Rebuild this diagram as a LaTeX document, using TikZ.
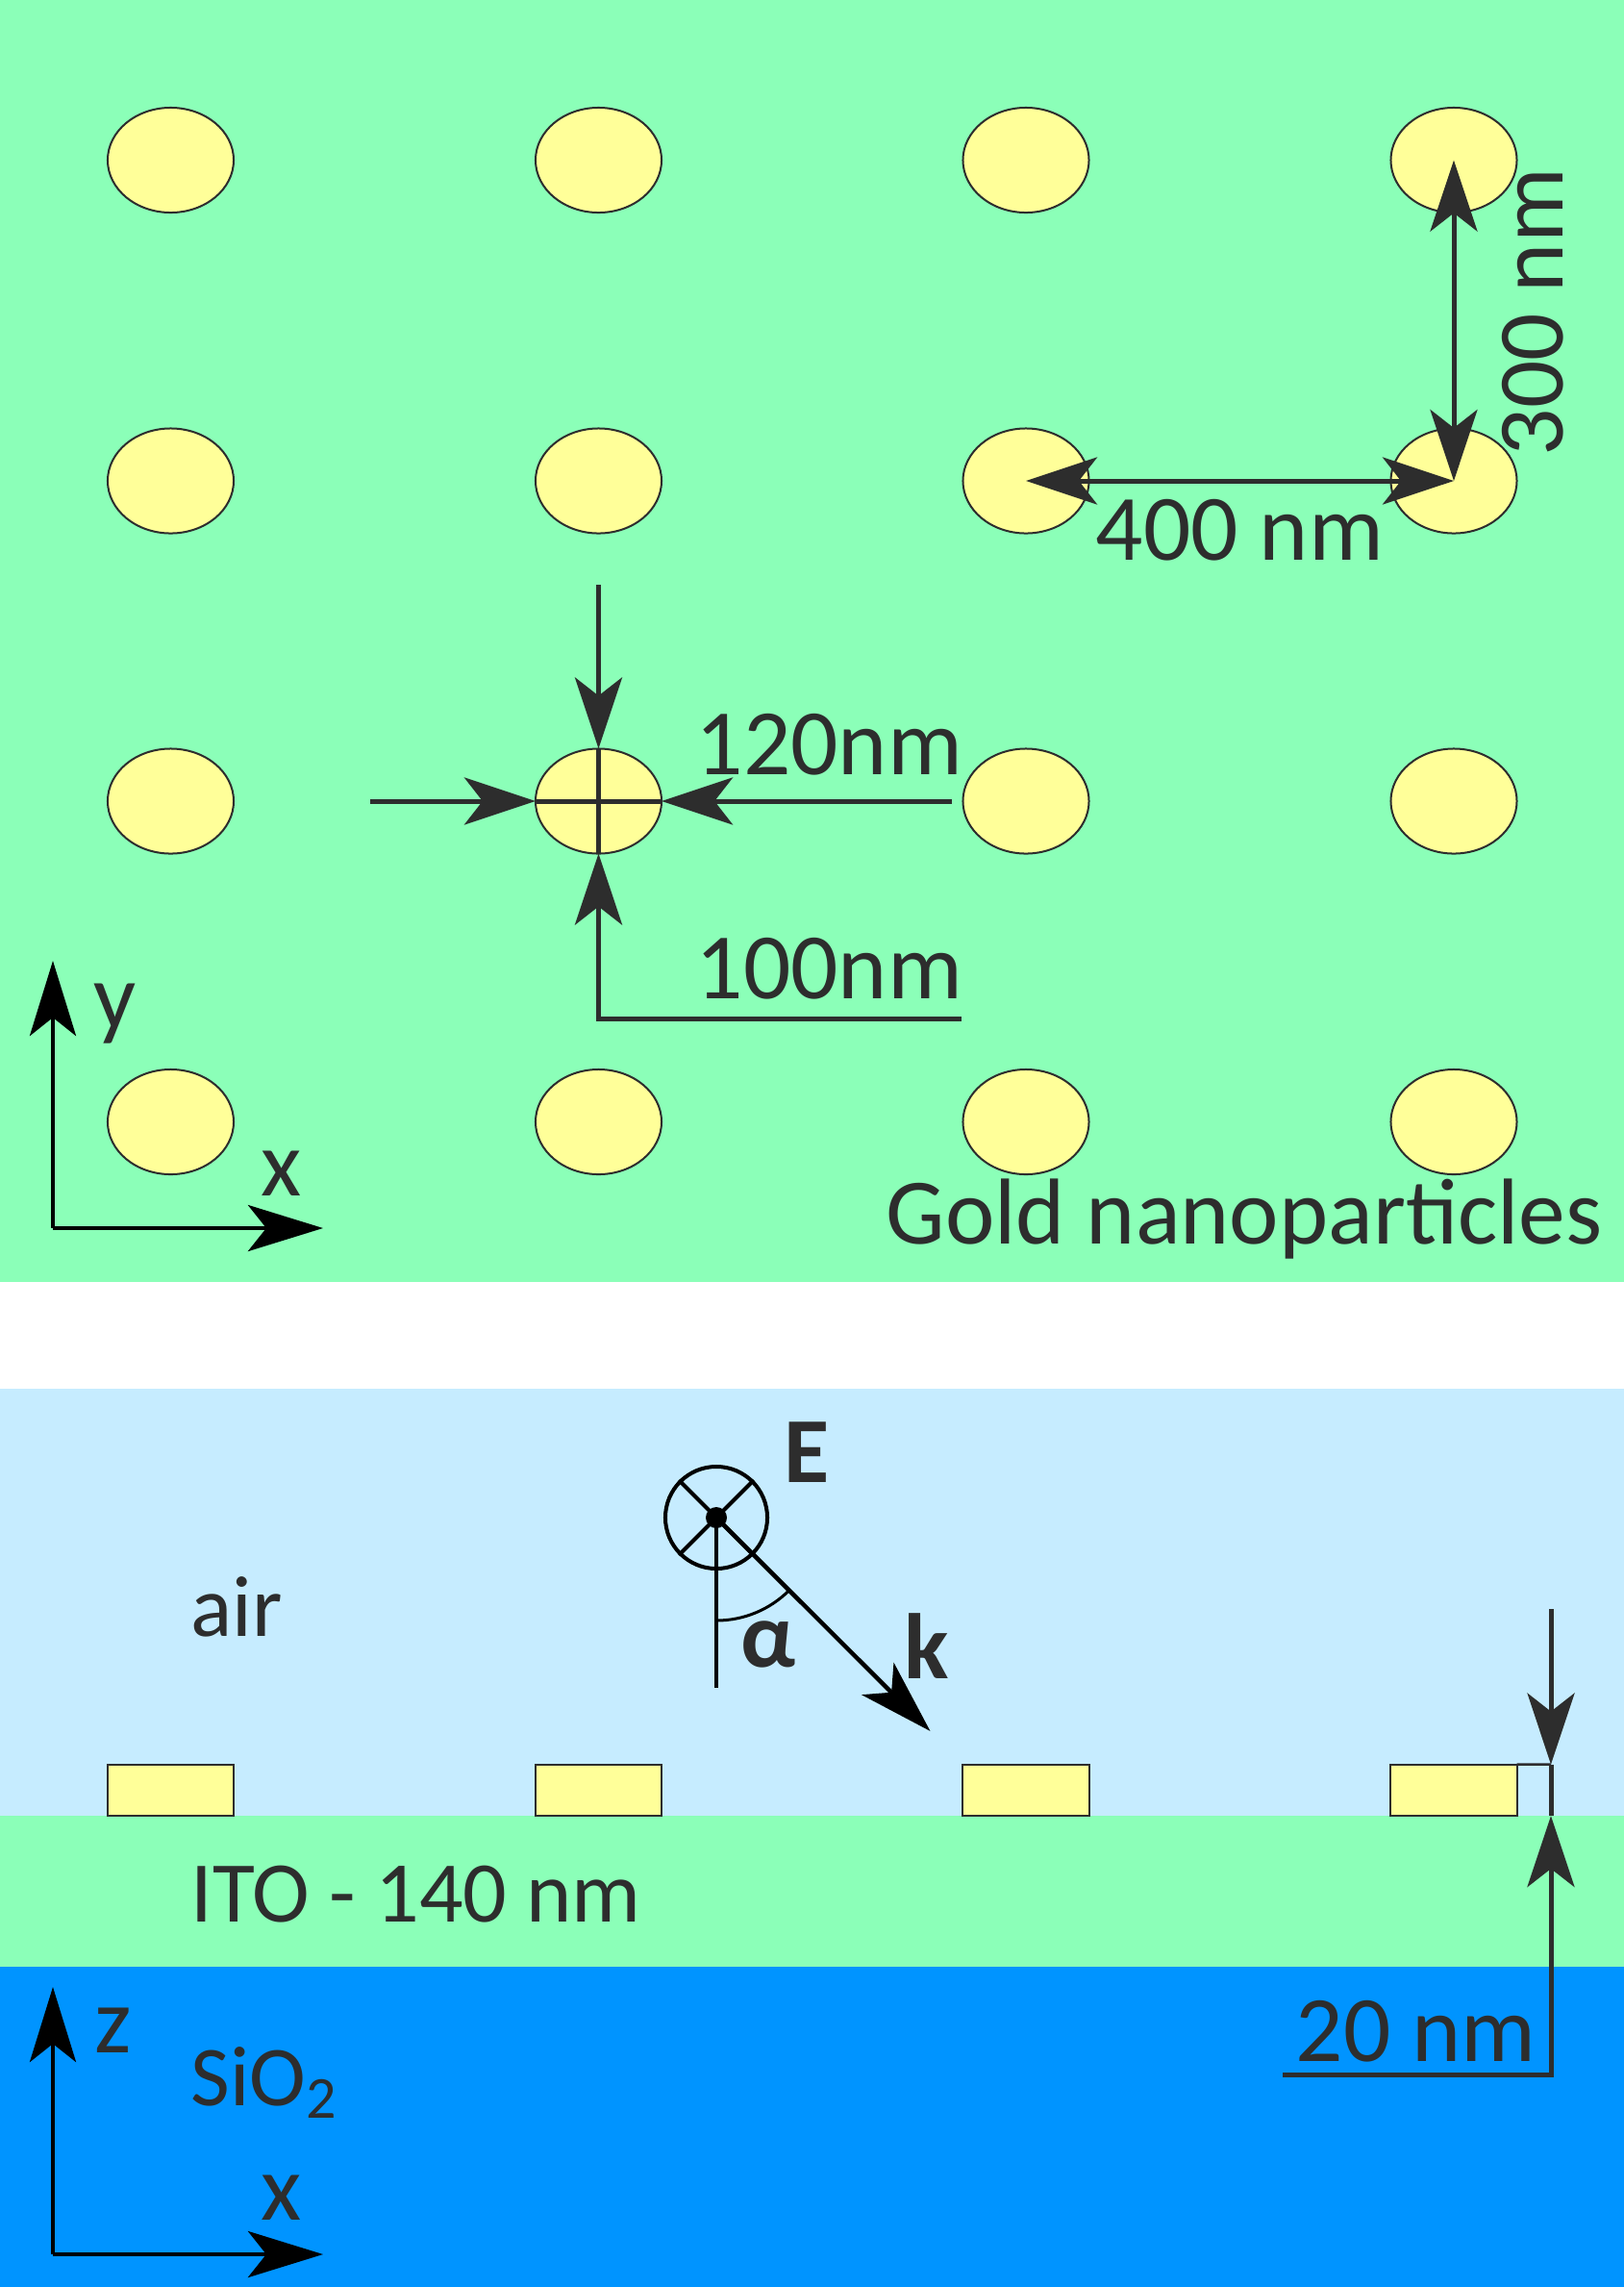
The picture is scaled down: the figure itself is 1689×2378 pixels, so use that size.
\documentclass[tikz,border=0pt]{standalone}
\usepackage{fontspec}
\setmainfont{Carlito}
\usetikzlibrary{shapes.geometric,arrows.meta}
\definecolor{itogreen}{HTML}{8BFFB8}
\definecolor{goldyellow}{HTML}{FFFF99}
\definecolor{airblue}{HTML}{C6ECFF}
\definecolor{sioblue}{HTML}{0094FF}
\definecolor{inkgray}{HTML}{2D2D2D}
\tikzset{
  particle/.style={ellipse,draw=inkgray,fill=goldyellow,line width=0.02cm,inner sep=0pt,outer sep=0pt,
    minimum width=1.31cm,minimum height=1.09cm},
  crosscut/.style={rectangle,draw=inkgray,fill=goldyellow,line width=0.02cm,inner sep=0pt,outer sep=0pt,
    minimum width=1.31cm,minimum height=0.535cm},
  lbl/.style={text=inkgray,inner sep=0pt,anchor=base west,font=\fontsize{27.7}{30}\selectfont},
  smalllbl/.style={lbl,font=\fontsize{25.6}{28}\selectfont},
  boldlbl/.style={lbl,font=\fontsize{27.5}{30}\selectfont\bfseries},
  dimline/.style={draw=inkgray,line width=0.05cm},
  dimarrow/.style={dimline,-{Stealth[length=0.74cm,width=0.49cm,inset=0.19cm]}},
  dimboth/.style={dimline,{Stealth[length=0.74cm,width=0.49cm,inset=0.19cm]}-{Stealth[length=0.74cm,width=0.49cm,inset=0.19cm]}},
  axisarrow/.style={draw=black,line width=0.045cm,-{Stealth[length=0.78cm,width=0.48cm,inset=0.19cm]}},
}
\begin{document}
\begin{tikzpicture}[x=0.01cm,y=-0.01cm]
  \useasboundingbox (0,0) rectangle (1689,2378);
  % layers
  \fill[white] (0,0) rectangle (1689,2378);
  \fill[itogreen] (0,0) rectangle (1689,1333);
  \fill[airblue] (0,1444) rectangle (1689,1888);
  \fill[itogreen] (0,1888) rectangle (1689,2045);
  \fill[sioblue] (0,2045) rectangle (1689,2378);
  % particles, top view
  \foreach \col/\px in {1/177.5,2/622.5,3/1067,4/1512}{
    \foreach \row/\py in {1/166.5,2/500,3/833,4/1166.5}{
      \node[particle] (p\col\row) at (\px,\py) {};
    }
    \node[crosscut] (r\col) at (\px,1861.3) {};
  }
  % period arrows
  \draw[dimboth] (p32.center) -- (p42.center);
  \draw[dimboth] (p41.center) -- (p42.center);
  \node[lbl] (period x) at (1139,582) {400 nm};
  \node[lbl,rotate=90] (period y) at (1625,475) {300 nm};
  % particle size
  \coordinate (size top) at (622.5,608);
  \coordinate (size left) at (385,833);
  \coordinate (size right) at (990,833);
  \coordinate (size foot) at (622.5,1059);
  \coordinate (size end) at (1000,1059);
  \draw[dimarrow] (size top) -- (p23.north);
  \draw[dimarrow] (size left) -- (p23.west);
  \draw[dimarrow] (size right) -- (p23.east);
  \draw[dimarrow] (size end) -- (size foot) -- (p23.south);
  \draw[dimline] (p23.north) -- (p23.south);
  \draw[dimline] (p23.west) -- (p23.east);
  \node[lbl] (size d) at (723,805) {120nm};
  \node[lbl] (size h) at (723,1038) {100nm};
  % axes, top view
  \coordinate (top origin) at (55,1277);
  \coordinate (top y) at (55,999);
  \coordinate (top x) at (336,1277);
  \draw[axisarrow] (top origin) -- (top y);
  \draw[axisarrow] (top origin) -- (top x);
  \node[lbl] (top y lbl) at (97,1069) {y};
  \node[lbl] (top x lbl) at (271,1243) {x};
  \node[lbl] (gold) at (921,1293) {Gold nanoparticles};
  % side view
  \node[smalllbl] (air) at (198,1701) {air};
  \node[smalllbl] (ito) at (198,1998) {ITO - 140 nm};
  \node[smalllbl,font=\fontsize{25.2}{28}\selectfont] (sio) at (198,2189) {SiO\textsubscript{2}};
  % incident wave
  \coordinate (wave) at (745,1578);
  \coordinate (wave tip) at (967.5,1800);
  \coordinate (normal) at (745,1755);
  \node[circle,draw=black,line width=0.04cm,inner sep=0pt,minimum size=1.06cm] (field) at (wave) {};
  \draw[black,line width=0.04cm] (field.north west) -- (field.south east);
  \draw[black,line width=0.04cm] (field.north east) -- (field.south west);
  \fill[black] (wave) circle (0.11cm);
  \draw[black,line width=0.04cm] (wave) -- (normal);
  \draw[black,line width=0.03cm] (745,1685) arc[start angle=-90,end angle=-45,radius=1.07cm];
  \draw[axisarrow,-{Stealth[length=0.77cm,width=0.47cm,inset=0.20cm]}] (wave) -- (wave tip);
  \node[boldlbl] (field lbl) at (815,1541) {E};
  \node[boldlbl] (wave lbl) at (940,1745) {k};
  \node[boldlbl] (angle lbl) at (770,1733) {α};
  % thickness arrows
  \coordinate (film top) at (1613,1834.6);
  \coordinate (film base) at (1613,1888);
  \coordinate (film start) at (1613,1673);
  \coordinate (film foot) at (1613,2157.5);
  \coordinate (film end) at (1334,2157.5);
  \draw[dimarrow] (film start) -- (film top);
  \draw[dimarrow] (film end) -- (film foot) -- (film base);
  \draw[dimline] (film top) -- (film base);
  \draw[draw=inkgray,line width=0.025cm] (r4.north east) -- (film top);
  \node[lbl] (film lbl) at (1347,2143) {20 nm};
  % axes, side view
  \coordinate (side origin) at (55,2344);
  \coordinate (side z) at (55,2066);
  \coordinate (side x) at (336,2344);
  \draw[axisarrow] (side origin) -- (side z);
  \draw[axisarrow] (side origin) -- (side x);
  \node[lbl] (side z lbl) at (98,2134) {z};
  \node[lbl] (side x lbl) at (271,2308) {x};
\end{tikzpicture}
\end{document}
